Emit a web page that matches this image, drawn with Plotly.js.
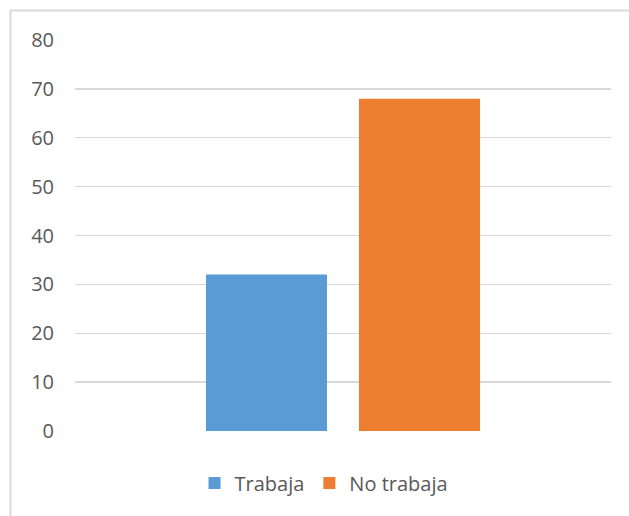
<!DOCTYPE html>
<html>
<head>
<meta charset="utf-8">
<script src="https://cdn.plot.ly/plotly-3.0.1.min.js"></script>
<style>html,body{margin:0;padding:0;background:#fff;}#chart{width:629px;height:516px;}</style>
</head>
<body>
<div id="chart"></div>
<script>
var categories = [''];
var seriesNames = ['Trabaja', 'No trabaja'];
var trabaja = [32];
var noTrabaja = [68];
var yTicks = [0, 10, 20, 30, 40, 50, 60, 70, 80];

var traces = [
  {type: 'bar', name: seriesNames[0], x: categories, y: trabaja, marker: {color: '#5b9bd5'}, hoverinfo: 'none'},
  {type: 'bar', name: seriesNames[1], x: categories, y: noTrabaja, marker: {color: '#ed7d31'}, hoverinfo: 'none'}
];

var layout = {
  width: 629, height: 516,
  margin: {l: 75, r: 18, t: 40, b: 85},
  paper_bgcolor: '#ffffff', plot_bgcolor: '#ffffff',
  font: {family: 'Open Sans, sans-serif', size: 20, color: '#595959'},
  barmode: 'group',
  bargap: 0.429,
  bargroupgap: 0.209,
  xaxis: {showticklabels: false, showgrid: false, zeroline: false, showline: false, ticks: '', fixedrange: true},
  yaxis: {range: [0, 80], tickvals: yTicks, showgrid: true, gridcolor: '#d9d9d9', gridwidth: 1.3,
          zeroline: false, showline: false, ticks: '', ticklabelstandoff: 20,
          tickfont: {size: 20, color: '#595959'}, fixedrange: true},
  showlegend: true,
  legend: {orientation: 'h', x: 0.4646, xanchor: 'center', y: -0.133, yanchor: 'middle',
           font: {size: 20, color: '#595959'}, itemclick: false, traceorder: 'normal'},
  shapes: [
    {type: 'rect', xref: 'paper', yref: 'paper', x0: -0.1204, x1: 1.2, y0: -0.5, y1: 1.0755,
     line: {color: '#d9d9d9', width: 2}, fillcolor: 'rgba(0,0,0,0)', layer: 'below'}
  ]
};

Plotly.newPlot('chart', traces, layout, {staticPlot: true, displayModeBar: false});
</script>
</body>
</html>
